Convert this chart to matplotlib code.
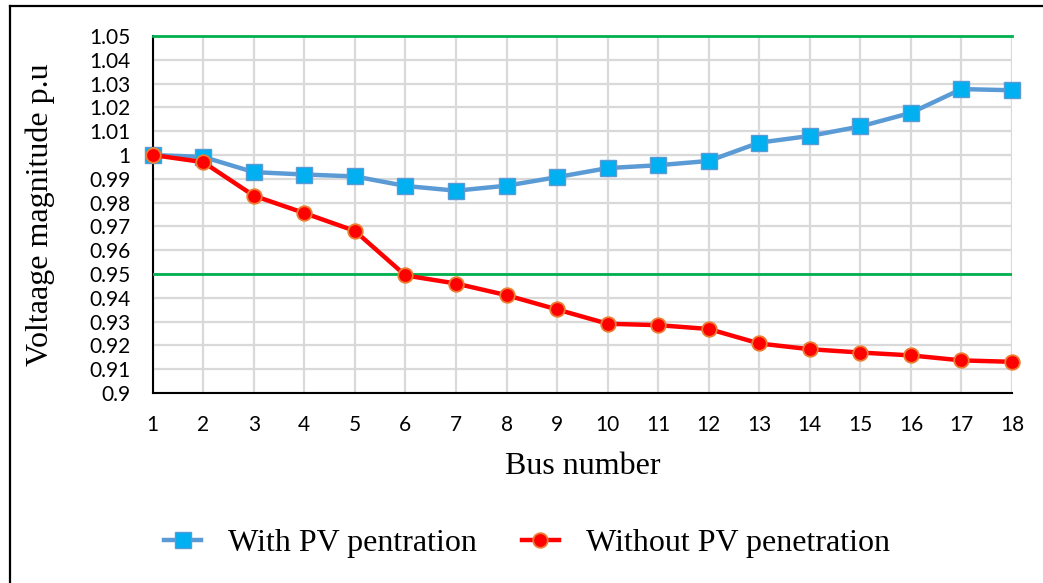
import matplotlib
matplotlib.use("Agg")
import matplotlib.pyplot as plt
from matplotlib.lines import Line2D

# Bus voltage profile data
buses = list(range(1, 19))
with_pv = [1.0000, 0.9992, 0.9928, 0.9918, 0.9910, 0.9870, 0.9850, 0.9871, 0.9907,
           0.9945, 0.9957, 0.9975, 1.0052, 1.0080, 1.0120, 1.0177, 1.0277, 1.0272]
without_pv = [1.0000, 0.9970, 0.9829, 0.9756, 0.9681, 0.9494, 0.9460, 0.9411, 0.9351,
              0.9291, 0.9285, 0.9269, 0.9208, 0.9184, 0.9170, 0.9158, 0.9137, 0.9131]
upper_limit = 1.05
lower_limit = 0.95
y_ticks = [0.90, 0.91, 0.92, 0.93, 0.94, 0.95, 0.96, 0.97, 0.98, 0.99,
           1.00, 1.01, 1.02, 1.03, 1.04, 1.05]
y_tick_labels = ["0.9", "0.91", "0.92", "0.93", "0.94", "0.95", "0.96", "0.97", "0.98",
                 "0.99", "1", "1.01", "1.02", "1.03", "1.04", "1.05"]

W, H = 1043, 583
fig = plt.figure(figsize=(W / 100, H / 100), dpi=100)
fig.patch.set_facecolor("white")

left, right, top, bottom = 152.7, 1012.0, 36.0, 393.0
ax = fig.add_axes([left / W, 1 - bottom / H, (right - left) / W, (bottom - top) / H])

tick_font = dict(family="Lato", size=15)
serif_font = dict(family="Liberation Serif", size=23)

ax.set_xlim(1, 18)
ax.set_ylim(0.9, 1.05)
ax.set_xticks(buses)
ax.set_xticklabels([str(b) for b in buses], fontdict=tick_font)
ax.set_yticks(y_ticks)
ax.set_yticklabels(y_tick_labels, fontdict=tick_font)
ax.tick_params(axis="both", length=0, colors="black")
ax.tick_params(axis="y", pad=16)
ax.tick_params(axis="x", pad=16)

ax.grid(True, color="#D9D9D9", linewidth=1.6, zorder=0)
ax.set_axisbelow(True)
for side in ("top", "right"):
    ax.spines[side].set_visible(False)
for side in ("left", "bottom"):
    ax.spines[side].set_linewidth(1.5)
    ax.spines[side].set_color("black")
    ax.spines[side].set_zorder(1)

# Voltage limits
ax.axhline(upper_limit, color="#00B050", linewidth=2.0, zorder=2, clip_on=False)
ax.axhline(lower_limit, color="#00B050", linewidth=2.0, zorder=2)

ax.plot(buses, with_pv, color="#5B9BD5", linewidth=3.2, marker="s", markersize=11,
        markerfacecolor="#00B0F0", markeredgecolor="#5B9BD5", markeredgewidth=1.0,
        label="With PV pentration", zorder=3, clip_on=False)
ax.plot(buses, without_pv, color="#FF0000", linewidth=3.2, marker="o", markersize=10.5,
        markerfacecolor="#FF0000", markeredgecolor="#ED7D31", markeredgewidth=1.3,
        label="Without PV penetration", zorder=4, clip_on=False)

ax.set_ylabel("Voltaage magnitude p.u", fontdict=serif_font)
ax.yaxis.set_label_coords((40 - left) / (right - left), 0.5)
ax.set_xlabel("Bus number", fontdict=serif_font)
ax.xaxis.set_label_coords(0.5, (bottom - 466) / (bottom - top))
ax.xaxis.label.set_va("center")
ax.yaxis.label.set_va("center")

fig.legend(loc="center", bbox_to_anchor=(527 / W, 1 - 543 / H), ncol=2, frameon=False,
           prop=dict(family="Liberation Serif", size=23), handlelength=1.15,
           handletextpad=0.85, columnspacing=1.4)

# Outer frame (left and top edges)
fig.add_artist(Line2D([9.5 / W, 9.5 / W], [0, 1 - 6 / H], transform=fig.transFigure,
                      color="black", linewidth=1.6))
fig.add_artist(Line2D([9.5 / W, 1], [1 - 6 / H, 1 - 6 / H], transform=fig.transFigure,
                      color="black", linewidth=1.6))

fig.savefig("out.png", dpi=100)
